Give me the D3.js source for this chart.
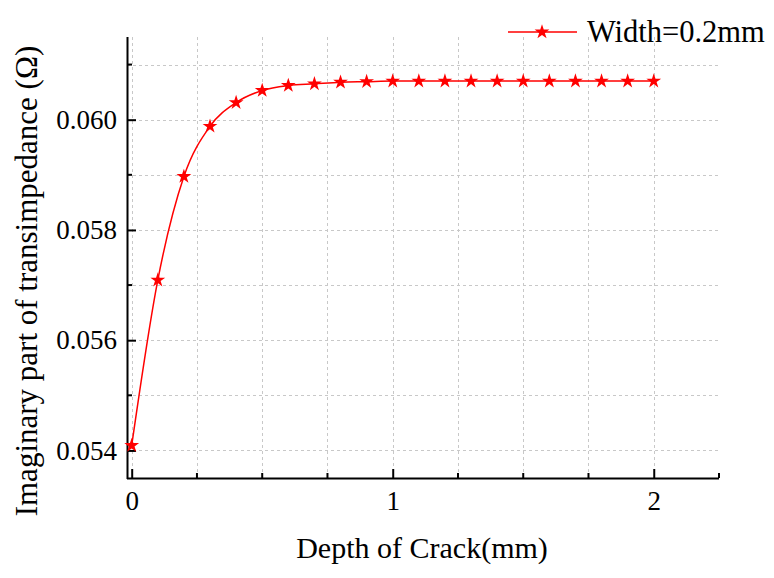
<!DOCTYPE html>
<html>
<head>
<meta charset="utf-8">
<script src="https://cdn.jsdelivr.net/npm/d3@7"></script>
<style>
  html, body { margin: 0; padding: 0; background: #fff; }
  svg { display: block; }
  text { font-family: 'Liberation Serif', 'Times New Roman', serif; fill: #000; }
</style>
</head>
<body>
<svg id="chart" width="774" height="578"></svg>
<script>
// ---- data ----
const depth = [0, 0.1, 0.2, 0.3, 0.4, 0.5, 0.6, 0.7, 0.8, 0.9, 1.0, 1.1, 1.2, 1.3, 1.4, 1.5, 1.6, 1.7, 1.8, 1.9, 2.0];
const imagPart = [0.05409, 0.05709, 0.05897, 0.05988, 0.06031, 0.06053, 0.06062, 0.06065, 0.06068, 0.06069,
                  0.06070, 0.06070, 0.06070, 0.06070, 0.06070, 0.06070, 0.06070, 0.06070, 0.06070, 0.06070, 0.06070];
const xMajorTicks = [0, 1, 2];
const xMinorTicks = [0.25, 0.5, 0.75, 1.25, 1.5, 1.75, 2.25];
const xGridTicks = [0, 0.25, 0.5, 0.75, 1, 1.25, 1.5, 1.75, 2];
const yMajorTicks = [0.054, 0.056, 0.058, 0.060];
const yMinorTicks = [0.055, 0.057, 0.059, 0.061];
const seriesName = "Width=0.2mm";
const xTitle = "Depth of Crack(mm)";
const yTitle = "Imaginary part of transimpedance (Ω)";

// ---- layout ----
const FONT = "'Liberation Serif', 'Times New Roman', serif";
const svg = d3.select("#chart");
const pL = 127, pR = 719, pT = 37, pB = 478;
const x = d3.scaleLinear().domain([-0.018, 2.25]).range([pL, pR]);
const y = d3.scaleLinear().domain([0.0535, 0.0615]).range([pB, pT]);
const red = "#ff0000";

// grid
const grid = svg.append("g").attr("stroke", "#c8c8c8").attr("stroke-width", 1).attr("stroke-dasharray", "3,3");
grid.selectAll("line.v").data(xGridTicks).join("line").attr("class", "v")
  .attr("x1", d => Math.round(x(d)) + 0.5).attr("x2", d => Math.round(x(d)) + 0.5)
  .attr("y1", pT).attr("y2", pB);
grid.selectAll("line.h").data(yMajorTicks.concat(yMinorTicks)).join("line").attr("class", "h")
  .attr("x1", pL).attr("x2", pR)
  .attr("y1", d => Math.round(y(d)) + 0.5).attr("y2", d => Math.round(y(d)) + 0.5);

// axes
const xAxis = d3.axisBottom(x).tickValues(xMajorTicks).tickSizeInner(-9).tickSizeOuter(0).tickPadding(13).tickFormat(d3.format("d"));
const gx = svg.append("g").attr("transform", `translate(0,${pB})`).call(xAxis);
gx.attr("font-family", FONT);
gx.select(".domain").attr("stroke", "#000").attr("stroke-width", 2).attr("d", `M${pL},0.5H${pR}`);
gx.selectAll(".tick line").attr("stroke", "#000").attr("stroke-width", 2);
gx.selectAll(".tick text").style("font-size", "27px").attr("dy", "0.71em");
gx.selectAll(".minor").data(xMinorTicks).join("line").attr("class", "minor")
  .attr("x1", d => x(d)).attr("x2", d => x(d)).attr("y1", 0).attr("y2", -5)
  .attr("stroke", "#000").attr("stroke-width", 2);

const yAxis = d3.axisLeft(y).tickValues(yMajorTicks).tickSizeInner(-9).tickSizeOuter(0).tickPadding(10).tickFormat(d3.format(".3f"));
const gy = svg.append("g").attr("transform", `translate(${pL},0)`).call(yAxis);
gy.attr("font-family", FONT);
gy.select(".domain").attr("stroke", "#000").attr("stroke-width", 2).attr("d", `M0.5,${pT}V${pB + 1}`);
gy.selectAll(".tick line").attr("stroke", "#000").attr("stroke-width", 2);
gy.selectAll(".tick text").style("font-size", "27px");
gy.selectAll(".minor").data(yMinorTicks).join("line").attr("class", "minor")
  .attr("x1", 0).attr("x2", 5).attr("y1", d => y(d)).attr("y2", d => y(d))
  .attr("stroke", "#000").attr("stroke-width", 2);

// series line
const line = d3.line().x((d, i) => x(depth[i])).y(d => y(d)).curve(d3.curveMonotoneX);
svg.append("path").datum(imagPart).attr("d", line)
  .attr("fill", "none").attr("stroke", red).attr("stroke-width", 1.5);

// markers
const star = d3.symbol().type(d3.symbolStar).size(68);
svg.selectAll("path.pt").data(imagPart).join("path").attr("class", "pt")
  .attr("transform", (d, i) => `translate(${x(depth[i])},${y(d)})`)
  .attr("d", star).attr("fill", red);

// axis titles
svg.append("text").attr("x", 422).attr("y", 558).attr("text-anchor", "middle")
  .style("font-size", "30px").text(xTitle);
svg.append("text").attr("transform", "translate(37,281) rotate(-90)").attr("text-anchor", "middle")
  .style("font-size", "31px").text(yTitle);

// legend
const lg = svg.append("g");
lg.append("line").attr("x1", 508).attr("x2", 577).attr("y1", 32).attr("y2", 32)
  .attr("stroke", red).attr("stroke-width", 1.5);
lg.append("path").attr("transform", "translate(542,32)").attr("d", star).attr("fill", red);
lg.append("text").attr("x", 587).attr("y", 42).style("font-size", "30.5px").text(seriesName);
</script>
</body>
</html>
